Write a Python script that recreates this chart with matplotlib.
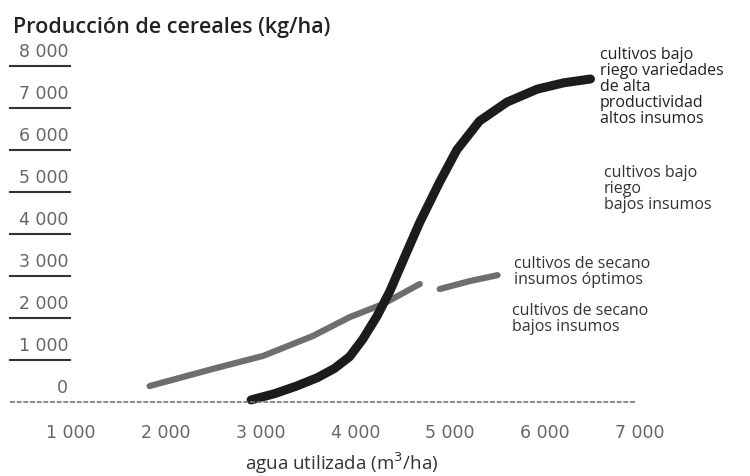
import numpy as np
import matplotlib
matplotlib.use('Agg')
import matplotlib.pyplot as plt
from matplotlib.transforms import ScaledTranslation

# Data
# water used (m3/ha) vs cereal yield (kg/ha)
riego_agua = [2900, 3150, 3380, 3600, 3780, 3940, 4080, 4230, 4365, 4500, 4680, 4890, 5070, 5310, 5600, 5920, 6200, 6480]
riego_prod = [50, 200, 380, 580, 800, 1080, 1500, 2050, 2640, 3350, 4280, 5240, 6000, 6690, 7140, 7450, 7600, 7690]

# rainfed, optimal inputs (gap in the scan around 4 800)
secano_agua = [1830, 2500, 3030, 3550, 3940, 4290, 4680, np.nan, 4890, 5210, 5500]
secano_prod = [380, 790, 1100, 1570, 2020, 2330, 2810, np.nan, 2690, 2880, 3020]

x_ticks = [1000, 2000, 3000, 4000, 5000, 6000, 7000]
x_labels = ['1 000', '2 000', '3 000', '4 000', '5 000', '6 000', '7 000']
y_ticks = [0, 1000, 2000, 3000, 4000, 5000, 6000, 7000, 8000]
y_labels = ['0', '1 000', '2 000', '3 000', '4 000', '5 000', '6 000', '7 000', '8 000']

etiquetas = [
    'cultivos bajo\nriego variedades\nde alta\nproductividad\naltos insumos',
    'cultivos bajo\nriego\nbajos insumos',
    'cultivos de secano\ninsumos óptimos',
    'cultivos de secano\nbajos insumos',
]

fig = plt.figure(figsize=(7.5, 4.77), dpi=100)
ax = fig.add_axes([0.0133, 0.1463, 0.9733, 0.7485])
ax.set_xlim(357, 8057)
ax.set_ylim(-100, 8400)
for s in ax.spines.values():
    s.set_visible(False)

# curves
ax.plot(secano_agua, secano_prod, color='#555555', lw=4.5, alpha=0.85,
        solid_capstyle='round', clip_on=False)
ax.plot(riego_agua, riego_prod, color='#1c1c1c', lw=6.5,
        solid_capstyle='round', solid_joinstyle='round', clip_on=False)

# baseline
ax.axhline(0, xmin=0, xmax=(635 - 10) / 730, color='#777', lw=1.2, ls=(0, (3, 1)))

# y labels sit above short underlines
ytr = ax.get_yaxis_transform()
off = ScaledTranslation(0, 15 / 100, fig.dpi_scale_trans)
for v, lab in zip(y_ticks, y_labels):
    if v > 0:
        ax.plot([0, 0.082], [v, v], transform=ytr, color='#333', lw=1.5, clip_on=False)
    ax.text(0.08, v, lab, transform=ytr + off, ha='right', va='center',
            fontsize=12.5, color='#666', family='DejaVu Sans')
ax.set_yticks([])

ax.set_xticks(x_ticks)
ax.set_xticklabels(x_labels, fontsize=12.5, color='#666', family='DejaVu Sans')
ax.tick_params(axis='x', length=0, pad=12)

ax.set_xlabel('agua utilizada (m$^3$/ha)', fontsize=13.5, color='#333', family='Open Sans')
ax.xaxis.set_label_coords((342 - 10) / 730, -(463 - 407) / 357)
ax.xaxis.label.set_va('center')

fig.text(13 / 750, 1 - 27 / 477, 'Producción de cereales (kg/ha)', ha='left', va='center',
         fontsize=15.5, fontweight='semibold', color='#222', family='Open Sans')

# curve labels (pixel positions from the reference)
pos = [(600, 477 - 47), (604, 477 - 165), (514, 477 - 256), (512, 477 - 303)]
cols = ['#222', '#333', '#333', '#333']
for t, p, c in zip(etiquetas, pos, cols):
    ax.annotate(t, xy=p, xycoords='figure pixels', ha='left', va='top',
                fontsize=11.5, color=c, family='Open Sans', linespacing=1.0)

fig.savefig('out.png', dpi=100)
